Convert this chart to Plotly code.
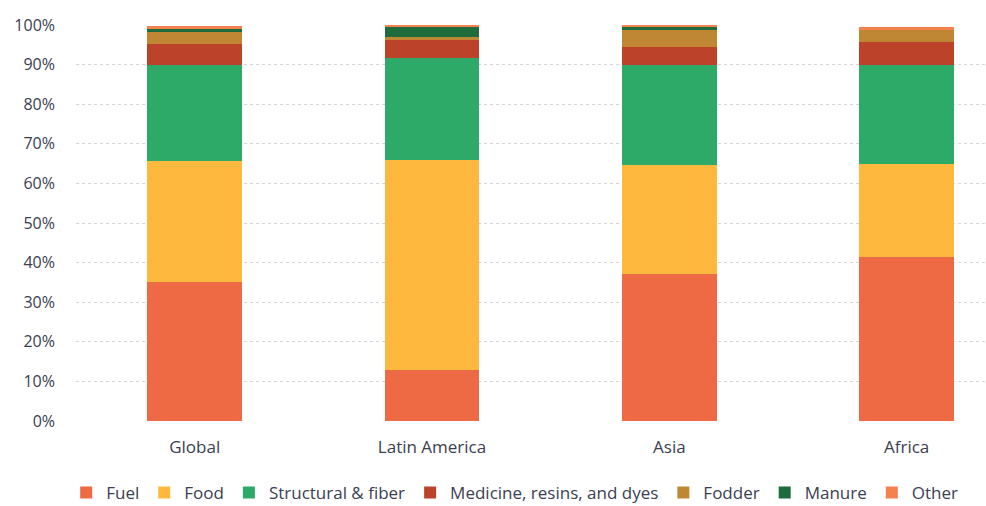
import plotly.graph_objects as go

# Share of forest product use by region (percent)
regions = ["Global", "Latin America", "Asia", "Africa"]
fuel = [35.0, 13.0, 37.1, 41.5]
food = [30.7, 53.0, 27.5, 23.4]
structural = [24.2, 25.7, 25.3, 25.0]
medicine = [5.3, 4.5, 4.5, 5.8]
fodder = [3.0, 0.8, 4.3, 3.0]
manure = [0.8, 2.6, 0.9, 0.0]
other = [0.7, 0.2, 0.4, 0.8]

series = [
    ("Fuel", fuel, "#EE6A45"),
    ("Food", food, "#FDB83D"),
    ("Structural & fiber", structural, "#2EAA68"),
    ("Medicine, resins, and dyes", medicine, "#BC432A"),
    ("Fodder", fodder, "#BF8733"),
    ("Manure", manure, "#1E6B3C"),
    ("Other", other, "#F4824E"),
]

fig = go.Figure()
for name, vals, color in series:
    fig.add_trace(go.Bar(
        name=name, x=regions, y=vals,
        marker=dict(color=color, line=dict(width=0)),
    ))

font_family = "'Open Sans', sans-serif"
text_color = "#3a4052"
fig.update_layout(
    barmode="stack",
    bargap=0.6,
    width=986, height=506,
    margin=dict(l=76, r=1, t=25, b=85, autoexpand=False),
    paper_bgcolor="white", plot_bgcolor="white",
    font=dict(family=font_family, size=17, color=text_color),
    legend=dict(
        orientation="h", xref="container", x=0.522, xanchor="center",
        y=-0.136, yanchor="top",
        font=dict(size=17, color=text_color), itemwidth=30,
        traceorder="normal",
    ),
    xaxis=dict(
        range=[-0.5, 3.33], showgrid=False, showline=False,
        ticks="", tickfont=dict(size=17), ticklabelstandoff=14,
        automargin=False,
    ),
    yaxis=dict(
        range=[0, 100], dtick=10, ticksuffix="%",
        showgrid=True, gridcolor="#d6d6d6", griddash="dot", gridwidth=1,
        zeroline=False, showline=False, ticks="",
        tickfont=dict(size=16), ticklabelstandoff=20,
        automargin=False,
    ),
)

fig.write_html("out.html")
